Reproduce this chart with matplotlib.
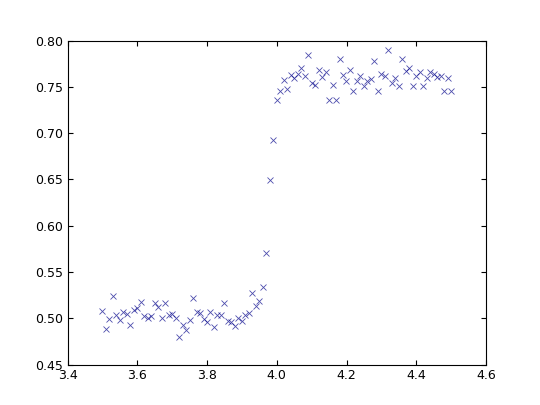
import numpy as np
import matplotlib
matplotlib.use("Agg")
import matplotlib.pyplot as plt

# x grid as plotted (3.50 .. 4.50, step 0.01)
x = np.round(np.arange(3.50, 4.505, 0.01), 2)

y_low = [0.508, 0.488, 0.499, 0.524, 0.503, 0.498, 0.507, 0.505, 0.493, 0.509,
         0.511, 0.517, 0.502, 0.500, 0.502, 0.516, 0.512, 0.500, 0.516, 0.503,
         0.505, 0.500, 0.480, 0.493, 0.487, 0.498, 0.522, 0.507, 0.506, 0.499,
         0.496, 0.507, 0.491, 0.504, 0.503, 0.516, 0.497, 0.496, 0.492, 0.500,
         0.497, 0.503, 0.506, 0.527, 0.513, 0.519]
y_rise = [0.534, 0.570, 0.649, 0.692, 0.736, 0.745, 0.757, 0.748, 0.763]
y_high = [0.760, 0.764, 0.770, 0.762, 0.784, 0.754, 0.752, 0.768, 0.761, 0.766,
          0.736, 0.752, 0.736, 0.780, 0.763, 0.756, 0.768, 0.745, 0.756, 0.762,
          0.751, 0.756, 0.758, 0.778, 0.745, 0.764, 0.762, 0.790, 0.754, 0.760,
          0.751, 0.780, 0.767, 0.770, 0.751, 0.762, 0.766, 0.751, 0.760, 0.766,
          0.764, 0.761, 0.762, 0.745, 0.760, 0.745]
y = y_low + y_rise + y_high
y = y[:len(x)]

fig, ax = plt.subplots(figsize=(5.4, 4.05), dpi=100)
fig.subplots_adjust(left=0.125, right=0.9, bottom=0.1, top=0.9)
ax.plot(x[:len(y)], y, "x", color="#00008b", alpha=0.7, markersize=5, markeredgewidth=0.6)
ax.set_xlim(3.4, 4.6)
ax.set_ylim(0.45, 0.80)
ax.set_xticks(np.arange(3.4, 4.61, 0.2))
ax.set_yticks(np.arange(0.45, 0.801, 0.05))
ax.tick_params(direction="in", top=True, right=True, labelsize=9)
fig.savefig("out.png", dpi=100)
